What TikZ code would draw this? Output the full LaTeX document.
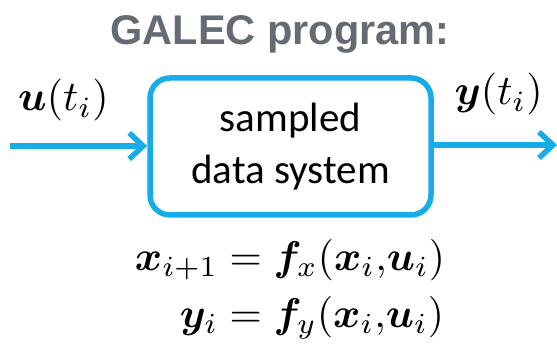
\RequirePackage{fix-cm}
\documentclass[tikz,border=0pt]{standalone}
\usepackage{amsmath,bm}
\usepackage{fontspec}
\newfontfamily\titlefont{Liberation Sans}
\newfontfamily\boxfont{Carlito}
\definecolor{sysblue}{HTML}{16ACE8}
\definecolor{titlegray}{HTML}{646B73}
\usetikzlibrary{arrows.meta}
\tikzset{
  sysbox/.style={draw=sysblue, line width=5.5pt, rounded corners=20pt, minimum width=281pt, minimum height=137pt, inner sep=0pt, align=center, font=\boxfont\fontsize{41}{52}\selectfont},
  sigline/.style={draw=sysblue, line width=5.5pt, -{Straight Barb[length=14pt,width=26pt,line width=5.5pt]}},
  mathlbl/.style={inner sep=0pt}
}
\begin{document}
\begin{tikzpicture}[x=1pt,y=-1pt]
\useasboundingbox (0,0) rectangle (557,355);
\node[anchor=base, text=titlegray, font=\titlefont\bfseries\fontsize{41.5}{48}\selectfont] (title) at (280,45) {GALEC program:};
\node[sysbox] (sys) at (290.5,146.5) {sampled\\data system};
\coordinate (in) at (10,146);
\coordinate (out) at (557,145);
\draw[sigline] (in) -- (sys.west |- in);
\draw[sigline] (sys.east |- out) -- (out);
\node[mathlbl, anchor=base west] (ulbl) at (18,111) {\scalebox{4.2}{$\bm{u}(t_i)$}};
\node[mathlbl, anchor=base east] (ylbl) at (543,105) {\scalebox{4.2}{$\bm{y}(t_i)$}};
\node[mathlbl] (eqs) at (290,289) {\scalebox{4.15}{$\begin{aligned}\bm{x}_{i+1} &= \bm{f}_x(\bm{x}_i{,}\bm{u}_i)\\[-1.4pt] \bm{y}_i &= \bm{f}_y(\bm{x}_i{,}\bm{u}_i)\end{aligned}$}};
\end{tikzpicture}
\end{document}
